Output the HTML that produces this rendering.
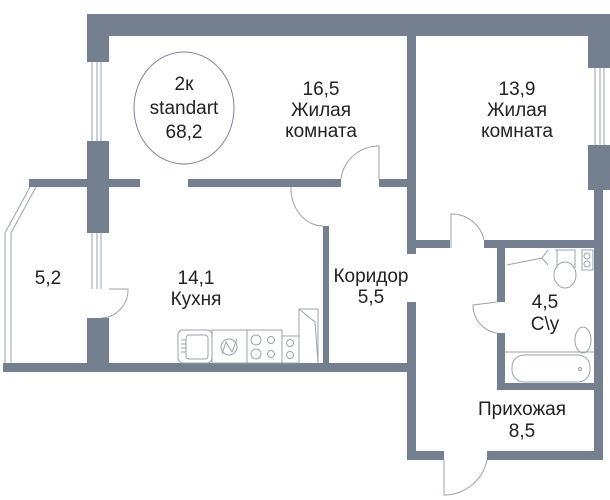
<!DOCTYPE html>
<html><head><meta charset="utf-8"><style>
html,body{margin:0;padding:0;background:#fff;}
svg{display:block;}
text{font-family:"Liberation Sans",sans-serif;font-size:19px;fill:#222;text-anchor:middle;}
</style></head><body>
<svg width="610" height="500" viewBox="0 0 610 500" xmlns="http://www.w3.org/2000/svg">
<g fill="#74808f">
<rect x="87" y="14" width="523" height="22"/>
<rect x="87" y="14" width="22" height="48"/>
<rect x="87" y="141" width="22" height="92"/>
<rect x="87" y="318" width="22" height="50"/>
<rect x="29" y="179" width="111" height="8"/>
<rect x="188" y="179" width="153" height="8"/>
<rect x="379" y="179" width="37" height="8"/>
<rect x="407" y="36" width="9" height="218"/>
<rect x="407" y="302" width="9" height="158"/>
<rect x="407" y="240" width="43" height="8"/>
<rect x="484" y="240" width="119" height="8"/>
<rect x="588" y="14" width="22" height="54"/>
<rect x="588" y="145" width="22" height="45"/>
<rect x="594" y="190" width="9" height="270"/>
<rect x="323" y="226" width="6" height="140"/>
<rect x="3" y="363" width="413" height="9"/>
<rect x="497" y="248" width="8" height="54"/>
<rect x="497" y="333" width="8" height="57"/>
<rect x="497" y="383" width="106" height="7"/>
<rect x="407" y="451" width="37" height="9"/>
<rect x="487" y="451" width="116" height="9"/>
</g>
<g fill="none" stroke="#9aa3ad" stroke-width="1">
<line x1="92" y1="62" x2="92" y2="141"/><line x1="97" y1="62" x2="97" y2="141"/><line x1="101" y1="62" x2="101" y2="141"/>
<line x1="92" y1="233" x2="92" y2="289"/><line x1="97" y1="233" x2="97" y2="289"/><line x1="101" y1="233" x2="101" y2="289"/>
<line x1="595" y1="68" x2="595" y2="145"/><line x1="600" y1="68" x2="600" y2="145"/><line x1="604" y1="68" x2="604" y2="145"/>
<polyline points="30,187 5,233 5,363"/>
<polyline points="36,187 11,233 11,363"/>
<ellipse cx="184" cy="108" rx="50" ry="56" stroke="#7a8594"/>
<path d="M109 289 L128 289 A28 28 0 0 1 101 318"/>
<path d="M341 179 A38 38 0 0 1 379 146 L379 179"/>
<path d="M291 187 A32 38 0 0 0 323 226"/>
<line x1="291" y1="187" x2="291" y2="193"/>
<path d="M451 248 L451 214 A33 33 0 0 1 484 240"/>
<path d="M497 302 L473 305 A28 28 0 0 0 497 333"/>
<path d="M444 460 L444 495 A44 44 0 0 0 487 460"/>
<rect x="178" y="330" width="34" height="33" rx="5"/>
<rect x="186" y="335" width="22" height="24" rx="3"/>
<line x1="181" y1="340" x2="186" y2="340"/><line x1="181" y1="344" x2="186" y2="344"/><line x1="181" y1="348" x2="186" y2="348"/><line x1="181" y1="352" x2="186" y2="352"/>
<rect x="212" y="330" width="35" height="33"/>
<circle cx="229" cy="347" r="8"/><path d="M222 354 L226 342 L232 352 L237 339"/>
<rect x="247" y="330" width="35" height="33"/>
<circle cx="256" cy="340" r="5"/><circle cx="256" cy="354" r="5"/><circle cx="271" cy="340" r="3.5"/><circle cx="271" cy="354" r="3.5"/>
<rect x="282" y="336" width="17" height="27"/>
<circle cx="290" cy="343" r="3.5"/><circle cx="290" cy="355" r="3.5"/>
<path d="M299 363 L299 309 L318 309 L318 363 M299 309 L315 322 L318 363"/>
<path d="M507 265 L542 258 L548 250 M542 258 L548 265"/>
<path d="M555 250 L575 250 L575 268 M557 250 L557 268"/>
<ellipse cx="565" cy="275" rx="11" ry="13"/>
<rect x="582" y="250" width="11" height="20"/>
<circle cx="587" cy="256" r="3"/><circle cx="587" cy="264" r="3"/>
<ellipse cx="583" cy="340" rx="8" ry="13"/>
<line x1="505" y1="352" x2="594" y2="352"/>
<rect x="512" y="355" width="78" height="27" rx="12"/>
<circle cx="580" cy="369" r="1.5"/>
</g>
<text x="184" y="90">2к</text>
<text x="184" y="114">standart</text>
<text x="184" y="138">68,2</text>
<text x="321" y="95">16,5</text>
<text x="321" y="116">Жилая</text>
<text x="321" y="137">комната</text>
<text x="517" y="95">13,9</text>
<text x="517" y="116">Жилая</text>
<text x="517" y="137">комната</text>
<text x="48" y="284">5,2</text>
<text x="196" y="284">14,1</text>
<text x="196" y="305">Кухня</text>
<text x="371" y="282">Коридор</text>
<text x="371" y="303">5,5</text>
<text x="545" y="308">4,5</text>
<text x="545" y="330">C\y</text>
<text x="522" y="415">Прихожая</text>
<text x="522" y="437">8,5</text>
</svg>
</body></html>
